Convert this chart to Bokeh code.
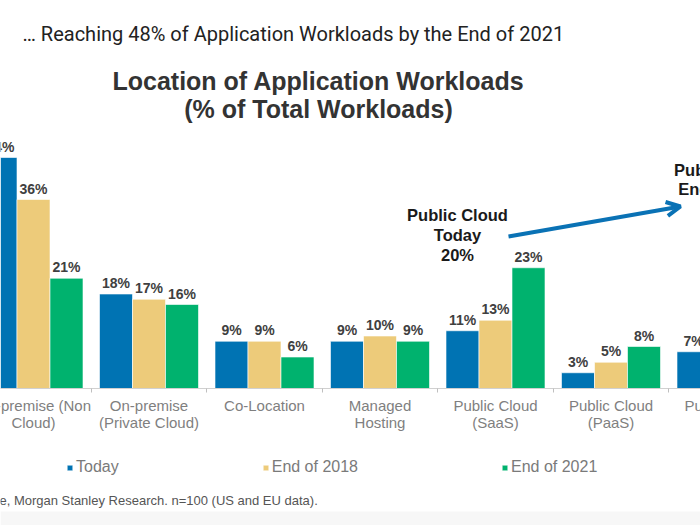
import numpy as np
from bokeh.plotting import figure
from bokeh.models import (ColumnDataSource, FixedTicker, Legend, LegendItem, Label,
                          Arrow, OpenHead, Range1d, BoxAnnotation)
from bokeh.core.properties import value
from bokeh.embed import file_html
from bokeh.resources import INLINE

# ---- data ----
categories = ["On-premise (Non\nCloud)", "On-premise\n(Private Cloud)", "Co-Location",
              "Managed\nHosting", "Public Cloud\n(SaaS)", "Public Cloud\n(PaaS)",
              "Public Cloud\n(IaaS)"]
today = [44, 18, 9, 9, 11, 3, 7]
end_2018 = [36, 17, 9, 10, 13, 5, 10]
end_2021 = [21, 16, 6, 9, 23, 8, 17]
series_names = ["Today", "End of 2018", "End of 2021"]
colors = ["#0073B3", "#EDCB7A", "#00B26E"]

W, H = 700, 525
BASE = 388            # pixel row of the zero line
PX_PER_X = 115.5      # pixels per category
PX_PER_Y = 5.25       # pixels per percent
X0 = 33               # pixel of category 0 centre

def px2x(px):
    return (px - X0) / PX_PER_X

def py2y(py):
    return (BASE - py) / PX_PER_Y

p = figure(width=W, height=H, output_backend="svg", toolbar_location=None,
           x_range=Range1d(px2x(0), px2x(W)),
           y_range=Range1d(py2y(H), py2y(0)),
           min_border=0)
p.outline_line_color = None
p.grid.visible = False
p.yaxis.visible = False
p.background_fill_color = "white"
p.border_fill_color = "white"

# faint grey band along the bottom edge of the slide
p.add_layout(BoxAnnotation(bottom=py2y(H), top=py2y(511), fill_color="#f7f7f7",
                           fill_alpha=1, line_color=None, level="underlay"))

bw = 33 / PX_PER_X
idx = np.arange(len(categories))
renderers = []
for k, (vals, col) in enumerate(zip([today, end_2018, end_2021], colors)):
    xs = idx + (k - 1) * bw
    src = ColumnDataSource(dict(x=xs, top=vals, lab=[f"{v}%" for v in vals]))
    r = p.vbar(x="x", top="top", bottom=0, width=bw, source=src, fill_color=col,
               line_color="white", line_width=0.6)
    renderers.append(r)
    p.text(x="x", y="top", text="lab", source=src, text_align="center",
           text_baseline="bottom", y_offset=-3, text_font=value("Liberation Sans"),
           text_font_style="bold", text_font_size="14px", text_color="#404040")

# x axis drawn on the zero line (line + group separators)
ax = p.xaxis[0]
ax.fixed_location = 0
ax.ticker = FixedTicker(ticks=[], minor_ticks=list(idx[:-1] + 0.5))
ax.major_tick_line_color = None
ax.minor_tick_line_color = "#bfbfbf"
ax.minor_tick_out = 4
ax.minor_tick_in = 0
ax.axis_line_color = "#d0d0d0"

# category labels under each group
cat_src = ColumnDataSource(dict(x=idx, y=np.zeros(len(idx)), text=categories))
p.text(x="x", y="y", text="text", source=cat_src, text_align="center",
       text_baseline="top", y_offset=8, text_line_height=1.05,
       text_font=value("Liberation Sans"), text_font_size="15px", text_color="#7f7f7f")

# legend (inside the frame, below the category labels)
legend = Legend(items=[LegendItem(label=n, renderers=[r]) for n, r in zip(series_names, renderers)],
                orientation="horizontal", location=(66, H - 476), spacing=143,
                glyph_width=7, glyph_height=7, label_standoff=3, padding=0, margin=0,
                border_line_color=None, background_fill_alpha=0,
                label_text_font="Liberation Sans", label_text_font_size="16px",
                label_text_color="#7a7a7a", label_height=18)
p.add_layout(legend, "center")

def add_label(text, px, py, size, bold=False, color="#222222", align="left",
              font="Liberation Sans"):
    p.add_layout(Label(x=px2x(px), y=py2y(py), text=text, text_align=align,
                       text_baseline="middle", text_font=font,
                       text_font_size=size, text_font_style="bold" if bold else "normal",
                       text_color=color))

add_label("\u2026 Reaching 48% of Application Workloads by the End of 2021", 22, 33,
          "20px", color="#222222", font="Roboto")
add_label("Location of Application Workloads", 318, 80, "25px", bold=True, color="#333333",
          align="center")
add_label("(% of Total Workloads)", 318, 108, "25px", bold=True, color="#333333",
          align="center")

for t, yy in zip(["Public Cloud", "Today", "20%"], [214, 234, 254]):
    add_label(t, 457, yy, "16.5px", bold=True, color="#1a1a1a", align="center")
for t, yy in zip(["Public Cloud", "End of 2021", "48%"], [169, 188, 207]):
    add_label(t, 724, yy, "16.5px", bold=True, color="#1a1a1a", align="center")

p.add_layout(Arrow(end=OpenHead(size=14, line_color="#0a72b5", line_width=4),
                   x_start=px2x(508), y_start=py2y(236), x_end=px2x(680), y_end=py2y(206),
                   line_color="#0a72b5", line_width=4))

add_label("Source: AlphaWise, Morgan Stanley Research. n=100 (US and EU data).", 318, 500,
          "13px", color="#555555", align="right")

open("out.html", "w").write(file_html(p, INLINE))
